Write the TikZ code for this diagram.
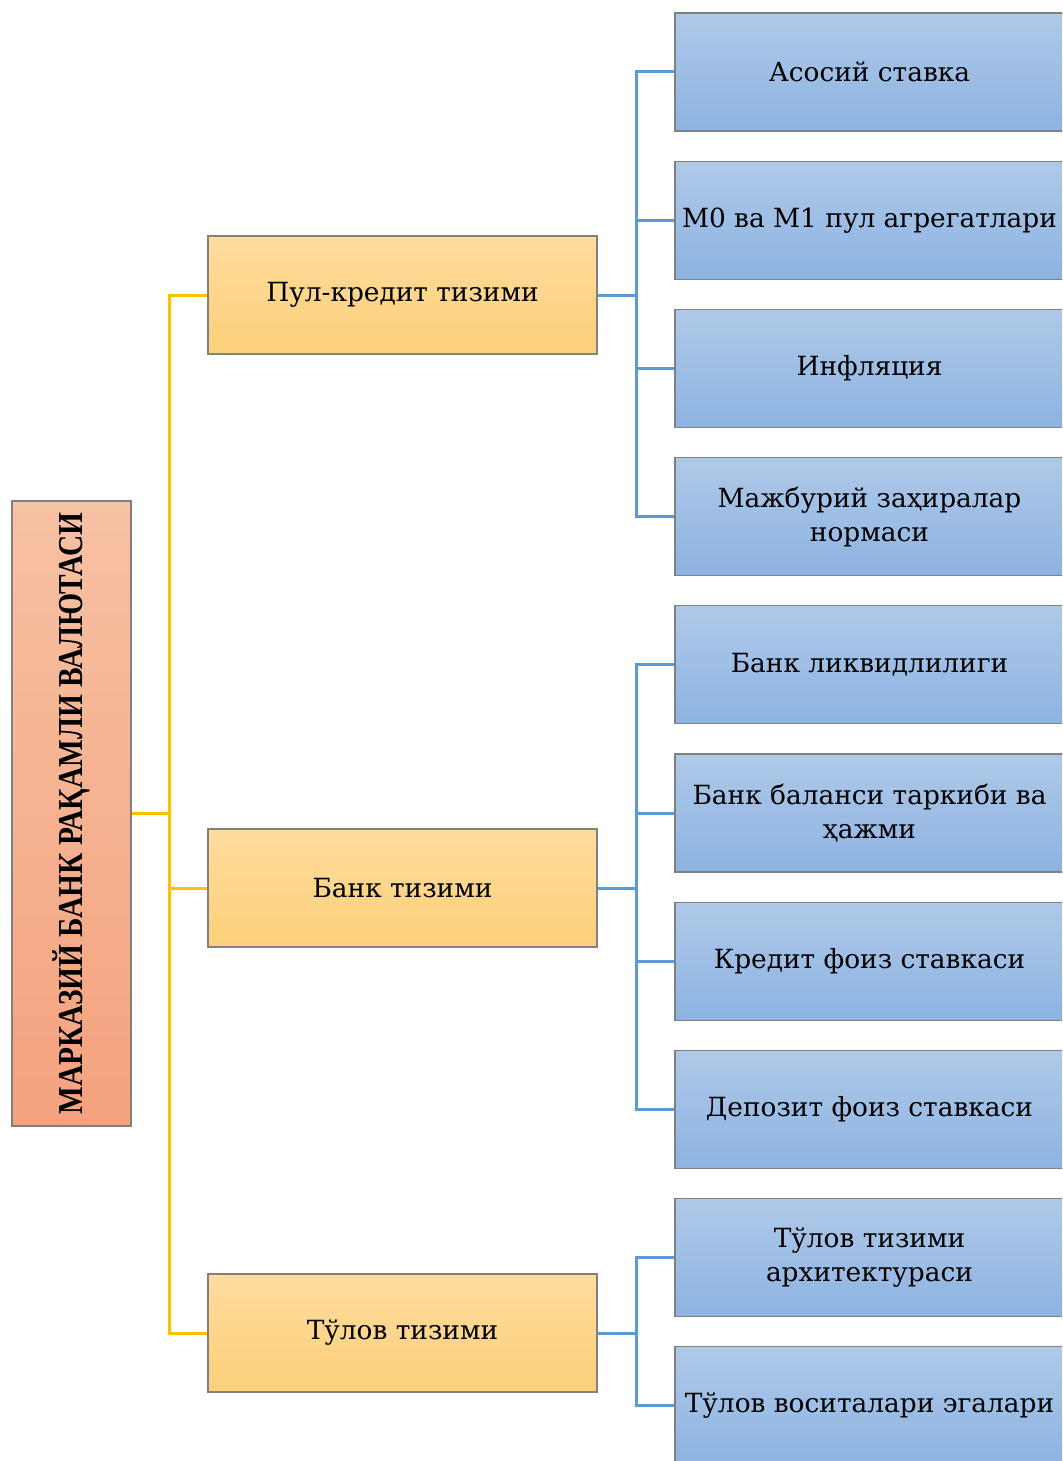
\documentclass[tikz,border=0pt]{standalone}
\usepackage{fontspec}
\setmainfont{DejaVu Serif}
\newfontfamily\titlefont{Liberation Serif}
\usepackage{tikz}
\usetikzlibrary{positioning}
\definecolor{titletop}{HTML}{F7C1A3}
\definecolor{titlebot}{HTML}{F4A27E}
\definecolor{systop}{HTML}{FEDC9E}
\definecolor{sysbot}{HTML}{FDD07A}
\definecolor{itemtop}{HTML}{AFC9E8}
\definecolor{itembot}{HTML}{8DB3E2}
\definecolor{edge}{HTML}{808080}
\definecolor{goldline}{HTML}{FFC000}
\definecolor{blueline}{HTML}{5B9BD5}
\tikzstyle{titlebox} = [rectangle, minimum width=59.5pt, minimum height=312.5pt, inner sep=0pt,
    draw=edge, line width=0.6pt, top color=titletop, bottom color=titlebot]
\tikzstyle{sysbox}   = [rectangle, minimum width=194.5pt, minimum height=59pt, inner sep=0pt,
    text centered, draw=edge, line width=0.6pt, top color=systop, bottom color=sysbot,
    font=\fontsize{13.2}{17}\selectfont]
\tikzstyle{itembox}  = [rectangle, minimum width=194.5pt, minimum height=59pt, inner sep=0pt,
    align=center, draw=edge, line width=0.6pt, top color=itemtop, bottom color=itembot,
    font=\fontsize{13.2}{17}\selectfont]
\tikzstyle{goldlink} = [goldline, line width=1.5pt]
\tikzstyle{bluelink} = [blueline, line width=1.5pt]

\begin{document}
\begin{tikzpicture}[x=0.5pt, y=-0.5pt, node distance=14.5pt]
    \useasboundingbox (0,0) rectangle (1062,1461);
    \clip (0,0) rectangle (1062,1461);

    % right column
    \node (stavka) [itembox] at (869.5,72) {Асосий ставка};
    \node (agreg)  [itembox, below=of stavka] {М0 ва М1 пул агрегатлари};
    \node (infl)   [itembox, below=of agreg]  {Инфляция};
    \node (zaxira) [itembox, below=of infl]   {Мажбурий заҳиралар\\нормаси};
    \node (likv)   [itembox, below=of zaxira] {Банк ликвидлилиги};
    \node (balans) [itembox, below=of likv]   {Банк баланси таркиби ва\\ҳажми};
    \node (kredit) [itembox, below=of balans] {Кредит фоиз ставкаси};
    \node (depoz)  [itembox, below=of kredit] {Депозит фоиз ставкаси};
    \node (arxit)  [itembox, below=of depoz]  {Тўлов тизими\\архитектураси};
    \node (egalar) [itembox, below=of arxit]  {Тўлов воситалари эгалари};

    % middle column
    \node (pul)   [sysbox] at (402.5,295)  {Пул-кредит тизими};
    \node (bank)  [sysbox] at (402.5,888)  {Банк тизими};
    \node (tulov) [sysbox] at (402.5,1333) {Тўлов тизими};

    % title
    \node (title) [titlebox] at (71.5,813.5) {};
    \node (titletxt) [rotate=90] at (title.center)
        {\scalebox{0.84}[1]{\titlefont\fontsize{17.5}{20}\selectfont\bfseries МАРКАЗИЙ БАНК РАҚАМЛИ ВАЛЮТАСИ}};

    % joints
    \coordinate (tj) at (169,813.5);
    \coordinate (pj) at (636,295);
    \coordinate (bj) at (636,888);
    \coordinate (oj) at (636,1333);

    \draw [goldlink] (title.east) -- (tj);
    \draw [goldlink] (tj) |- (pul.west);
    \draw [goldlink] (tj) |- (bank.west);
    \draw [goldlink] (tj) |- (tulov.west);

    \draw [bluelink] (pul.east) -- (pj);
    \foreach \n in {stavka, agreg, infl, zaxira}
        \draw [bluelink] (pj) |- (\n.west);
    \draw [bluelink] (bank.east) -- (bj);
    \foreach \n in {likv, balans, kredit, depoz}
        \draw [bluelink] (bj) |- (\n.west);
    \draw [bluelink] (tulov.east) -- (oj);
    \foreach \n in {arxit, egalar}
        \draw [bluelink] (oj) |- (\n.west);
\end{tikzpicture}
\end{document}
